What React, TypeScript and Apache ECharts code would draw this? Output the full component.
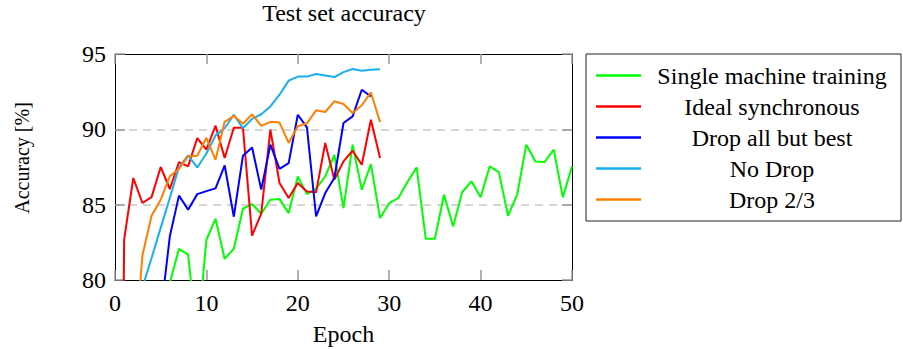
import React, { useEffect, useRef } from "react";
import * as echarts from "echarts";

const FONT = "Liberation Serif";

const seriesNames = [
  "Single machine training",
  "Ideal synchronous",
  "Drop all but best",
  "No Drop",
  "Drop 2/3",
];
const seriesColors = ["#00ff00", "#ff0000", "#0000ff", "#19aef0", "#ff8000"];

// values indexed by epoch (index 0 = epoch 0); null = not plotted
const singleMachine = [
  null, null, null, null, null, null, 79.8, 82.07, 81.68, 76, 82.67,
  84.06, 81.4, 82.08, 84.73, 85.04, 84.4, 85.33, 85.37, 84.44, 86.87,
  85.7, 86.06, 86.87, 88.3, 84.77, 88.98, 85.99, 87.69, 84.11, 85.1,
  85.44, 86.5, 87.47, 82.74, 82.74, 85.66, 83.56, 85.84, 86.55, 85.49,
  87.54, 87.16, 84.26, 85.66, 88.98, 87.87, 87.83, 88.65, 85.49, 87.54,
];
const idealSync = [
  10, 82.68, 86.77, 85.11, 85.5, 87.5, 86.04, 87.83, 87.54, 89.42, 88.65,
  90.24, 88.1, 90.1, 90.1, 82.95, 84.4, 89.98, 86.44, 85.44, 86.44,
  85.88, 85.82, 89.09, 86.66, 87.87, 88.58, 87.65, 90.64, 88.1,
];
const dropAllButBest = [
  null, null, null, null, null, 77.7, 82.9, 85.6, 84.67, 85.7, 85.9,
  86.08, 87.6, 84.2, 88.25, 88.8, 86.0, 88.98, 87.38, 87.76, 90.97,
  90.13, 84.22, 85.77, 86.77, 90.42, 90.86, 92.63, 92.19,
];
const noDrop = [
  null, null, null, 79.5, 81.46, 83.46, 85.46, 87.5, 88.27, 87.47, 88.4,
  89.6, 90.07, 90.97, 90.07, 90.7, 91.0, 91.52, 92.3, 93.23, 93.5,
  93.5, 93.67, 93.58, 93.47, 93.8, 94.0, 93.89, 93.96, 93.98,
];
const dropTwoThirds = [
  null, null, 74, 81.62, 84.27, 85.33, 86.88, 87.37, 88.2, 88.25, 89.44,
  87.98, 90.5, 90.9, 90.37, 91.0, 90.23, 90.5, 90.45, 89.1, 90.2,
  90.4, 91.26, 91.15, 91.86, 91.68, 91.08, 91.6, 92.45, 90.48,
];
const allSeries = [singleMachine, idealSync, dropAllButBest, noDrop, dropTwoThirds];

const xTicks = { min: 0, max: 50, interval: 10 };
const yTicks = { min: 80, max: 95, interval: 5 };

export default function App() {
  const ref = useRef<HTMLDivElement>(null);
  useEffect(() => {
    if (!ref.current) return;
    const chart = echarts.init(ref.current, null, { renderer: "svg" });
    const tickStyle = { show: true, inside: true, length: 10, lineStyle: { color: "#999", width: 1.5 } };
    const axisLine = { show: true, onZero: false, lineStyle: { color: "#000", width: 1 } };
    const labelStyle = { fontFamily: FONT, fontSize: 24, color: "#000" };
    chart.setOption({
      animation: false,
      textStyle: { fontFamily: FONT },
      title: {
        text: "Test set accuracy",
        left: 344,
        top: 1,
        textAlign: "center",
        padding: 0,
        textStyle: { fontFamily: FONT, fontSize: 24, fontWeight: "normal", color: "#000" },
      },
      grid: {
        left: 115,
        top: 54,
        width: 457,
        height: 226,
        containLabel: false,
        outerBoundsMode: "none",
      },
      legend: {
        orient: "vertical",
        left: 586,
        top: 54,
        padding: [6, 3, 6, 10],
        itemGap: 0,
        itemWidth: 45,
        itemHeight: 2.5,
        icon: "rect",
        borderColor: "#222",
        borderWidth: 1,
        borderRadius: 0,
        data: seriesNames,
        formatter: (name: string) => `{a|${name}}`,
        textStyle: {
          fontFamily: FONT,
          fontSize: 24,
          color: "#000",
          rich: {
            a: { width: 252, align: "center", fontFamily: FONT, fontSize: 24, lineHeight: 31, height: 31, color: "#000" },
          },
        },
      },
      xAxis: [
        {
          type: "value",
          position: "bottom",
          ...xTicks,
          axisLine,
          axisTick: tickStyle,
          axisLabel: { ...labelStyle, margin: 11 },
          splitLine: { show: false },
          name: "Epoch",
          nameLocation: "middle",
          nameGap: 42,
          nameTextStyle: labelStyle,
        },
        {
          type: "value",
          position: "top",
          ...xTicks,
          axisLine,
          axisTick: tickStyle,
          axisLabel: { show: false },
          splitLine: { show: false },
        },
      ],
      yAxis: [
        {
          type: "value",
          position: "left",
          ...yTicks,
          axisLine,
          axisTick: tickStyle,
          axisLabel: { ...labelStyle, margin: 9 },
          splitLine: {
            show: true,
            showMinLine: false,
            showMaxLine: false,
            lineStyle: { color: "#c8c8c8", type: [8, 6], width: 1.5 },
          },
        },
        {
          type: "value",
          position: "right",
          ...yTicks,
          axisLine,
          axisTick: tickStyle,
          axisLabel: { show: false },
          splitLine: { show: false },
        },
      ],
      graphic: [
        {
          type: "text",
          x: 22,
          y: 158,
          rotation: Math.PI / 2,
          style: {
            text: "Accuracy [%]",
            fontFamily: FONT,
            fontSize: 20,
            fill: "#000",
            align: "center",
            verticalAlign: "middle",
          },
        },
      ],
      series: allSeries.map((arr, k) => ({
        name: seriesNames[k],
        type: "line",
        symbol: "none",
        color: seriesColors[k],
        lineStyle: { color: seriesColors[k], width: 2 },
        data: arr.map((v, i) => [i, v]),
        clip: true,
      })),
    });
    return () => chart.dispose();
  }, []);
  return (
    <div
      ref={ref}
      style={{ position: "absolute", left: 0, top: 0, width: 903, height: 349 }}
    />
  );
}
